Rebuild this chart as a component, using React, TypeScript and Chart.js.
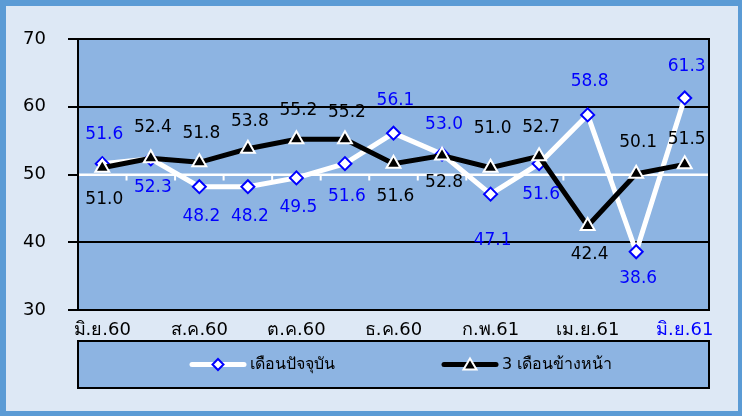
import React, { useEffect, useRef } from 'react';
import { Chart, registerables } from 'chart.js';

Chart.register(...registerables);

// ---------- data ----------
const categories = [
  'มิ.ย.60', 'ก.ค.60', 'ส.ค.60', 'ก.ย.60', 'ต.ค.60', 'พ.ย.60', 'ธ.ค.60',
  'ม.ค.61', 'ก.พ.61', 'มี.ค.61', 'เม.ย.61', 'พ.ค.61', 'มิ.ย.61',
];
const currentMonth = [51.6, 52.3, 48.2, 48.2, 49.5, 51.6, 56.1, 53.0, 47.1, 51.6, 58.8, 38.6, 61.3];
const threeMonthsAhead = [51.0, 52.4, 51.8, 53.8, 55.2, 55.2, 51.6, 52.8, 51.0, 52.7, 42.4, 50.1, 51.5];
const yTickValues = [30, 40, 50, 60, 70];
const seriesNames = ['เดือนปัจจุบัน', '3 เดือนข้างหน้า'];

// label placement (pixel offset of label centre from its point)
const currentLabelDy = [-29, 29, 30, 30, 30, 33, -33, -30, 46, 31, -33, 27, -31];
const aheadLabelDy = [32, -31, -29, -27, -29, -27, 33, 27, -39, -29, 29, -31, -25];

// ---------- styles ----------
const FONT = "'DejaVu Sans', sans-serif";
const PLOT_BG = '#8db4e2';
const OUTER_BORDER = '#5b9bd5';
const OUTER_BG = '#dde8f5';
const BLUE = '#0000ff';

const framePlugin = {
  id: 'framePlugin',
  beforeDraw(chart: any) {
    const { ctx, width, height, chartArea: a } = chart;
    ctx.save();
    ctx.fillStyle = OUTER_BORDER;
    ctx.fillRect(0, 0, width, height);
    ctx.fillStyle = OUTER_BG;
    ctx.fillRect(6, 6, width - 10, height - 11);
    ctx.fillStyle = PLOT_BG;
    ctx.fillRect(a.left, a.top, a.right - a.left, a.bottom - a.top);
    ctx.restore();
  },
  beforeDatasetsDraw(chart: any) {
    const { ctx, chartArea: a } = chart;
    const yScale = chart.scales.y;
    const y = yScale.getPixelForValue(50);
    const n = categories.length;
    ctx.save();
    ctx.strokeStyle = '#ffffff';
    ctx.lineWidth = 2;
    ctx.beginPath();
    ctx.moveTo(a.left, y);
    ctx.lineTo(a.right, y);
    for (let i = 0; i <= n; i++) {
      const bx = a.left + (i * (a.right - a.left)) / n;
      ctx.moveTo(bx, y);
      ctx.lineTo(bx, y + 6);
    }
    ctx.stroke();
    ctx.strokeStyle = '#000000';
    ctx.lineWidth = 2;
    ctx.strokeRect(a.left, a.top, a.right - a.left, a.bottom - a.top);
    ctx.restore();
  },
  afterDatasetsDraw(chart: any) {
    const { ctx } = chart;
    ctx.save();
    ctx.font = `17px ${FONT}`;
    ctx.textAlign = 'center';
    ctx.textBaseline = 'middle';
    const draw = (dsIndex: number, values: number[], dys: number[], color: string) => {
      const meta = chart.getDatasetMeta(dsIndex);
      ctx.fillStyle = color;
      meta.data.forEach((pt: any, i: number) => {
        ctx.fillText(values[i].toFixed(1), pt.x + 2, pt.y + dys[i]);
      });
    };
    draw(0, currentMonth, currentLabelDy, BLUE);
    draw(1, threeMonthsAhead, aheadLabelDy, '#000000');
    ctx.restore();
  },
  afterDraw(chart: any) {
    const { ctx, chartArea: a } = chart;
    const top = 341;
    const bottom = 388;
    const cy = (top + bottom) / 2;
    ctx.save();
    ctx.fillStyle = PLOT_BG;
    ctx.fillRect(a.left, top, a.right - a.left, bottom - top);
    ctx.strokeStyle = '#000000';
    ctx.lineWidth = 2;
    ctx.strokeRect(a.left, top, a.right - a.left, bottom - top);

    // item 1
    ctx.lineCap = 'round';
    ctx.lineWidth = 5;
    ctx.strokeStyle = '#ffffff';
    ctx.beginPath();
    ctx.moveTo(192, cy);
    ctx.lineTo(244, cy);
    ctx.stroke();
    ctx.lineWidth = 2;
    ctx.fillStyle = '#ffffff';
    ctx.strokeStyle = BLUE;
    ctx.beginPath();
    ctx.moveTo(218, cy - 5.5);
    ctx.lineTo(223.5, cy);
    ctx.lineTo(218, cy + 5.5);
    ctx.lineTo(212.5, cy);
    ctx.closePath();
    ctx.fill();
    ctx.stroke();

    // item 2
    ctx.lineWidth = 5;
    ctx.strokeStyle = '#000000';
    ctx.beginPath();
    ctx.moveTo(444, cy);
    ctx.lineTo(496, cy);
    ctx.stroke();
    ctx.lineWidth = 2;
    ctx.fillStyle = '#000000';
    ctx.strokeStyle = '#ffffff';
    ctx.beginPath();
    ctx.moveTo(470, cy - 6);
    ctx.lineTo(476.5, cy + 5);
    ctx.lineTo(463.5, cy + 5);
    ctx.closePath();
    ctx.fill();
    ctx.stroke();

    ctx.fillStyle = '#000000';
    ctx.font = `16px ${FONT}`;
    ctx.textAlign = 'left';
    ctx.textBaseline = 'middle';
    ctx.fillText(seriesNames[0], 250, cy);
    ctx.fillText(seriesNames[1], 502, cy);
    ctx.restore();
  },
};

export default function App() {
  const canvasRef = useRef<HTMLCanvasElement | null>(null);

  useEffect(() => {
    const canvas = canvasRef.current;
    if (!canvas) return;
    const chart = new Chart(canvas, {
      type: 'line',
      data: {
        labels: categories,
        datasets: [
          {
            label: seriesNames[0],
            data: currentMonth,
            order: 1,
            borderColor: '#ffffff',
            borderWidth: 5,
            tension: 0,
            pointStyle: 'rectRot',
            pointRadius: 6.5,
            pointBackgroundColor: '#ffffff',
            pointBorderColor: BLUE,
            pointBorderWidth: 2,
          },
          {
            label: seriesNames[1],
            data: threeMonthsAhead,
            order: 0,
            borderColor: '#000000',
            borderWidth: 5,
            tension: 0,
            pointStyle: 'triangle',
            pointRadius: 8,
            pointBackgroundColor: '#000000',
            pointBorderColor: '#ffffff',
            pointBorderWidth: 2,
          },
        ],
      },
      options: {
        animation: false,
        responsive: false,
        devicePixelRatio: 1,
        layout: { padding: { top: 39, right: 33, left: 0, bottom: 0 } },
        plugins: {
          legend: { display: false },
          tooltip: { enabled: false },
        },
        scales: {
          x: {
            offset: true,
            grid: { display: false },
            border: { display: false },
            ticks: {
              autoSkip: false,
              maxRotation: 0,
              padding: 2,
              font: { family: FONT, size: 18 },
              color: (c: any) => (c.index === categories.length - 1 ? BLUE : '#000000'),
              callback: (_v: any, i: number) => (i % 2 === 0 ? categories[i] : ''),
            },
            afterFit: (s: any) => {
              s.height = 106;
            },
          },
          y: {
            min: 30,
            max: 70,
            afterBuildTicks: (s: any) => {
              s.ticks = yTickValues.map((v) => ({ value: v }));
            },
            grid: {
              color: (c: any) => (c.tick && c.tick.value === 50 ? '#ffffff' : '#000000'),
              lineWidth: 2,
              tickColor: '#000000',
              tickLength: 10,
            },
            border: { display: true, color: '#000000', width: 2 },
            ticks: {
              padding: 22,
              font: { family: FONT, size: 18 },
              color: '#000000',
            },
            afterFit: (s: any) => {
              s.width = 78;
            },
          },
        },
      },
      plugins: [framePlugin],
    });
    return () => chart.destroy();
  }, []);

  return (
    <canvas
      ref={canvasRef}
      width={742}
      height={416}
      style={{ position: 'fixed', left: 0, top: 0, display: 'block', width: 742, height: 416 }}
    />
  );
}
